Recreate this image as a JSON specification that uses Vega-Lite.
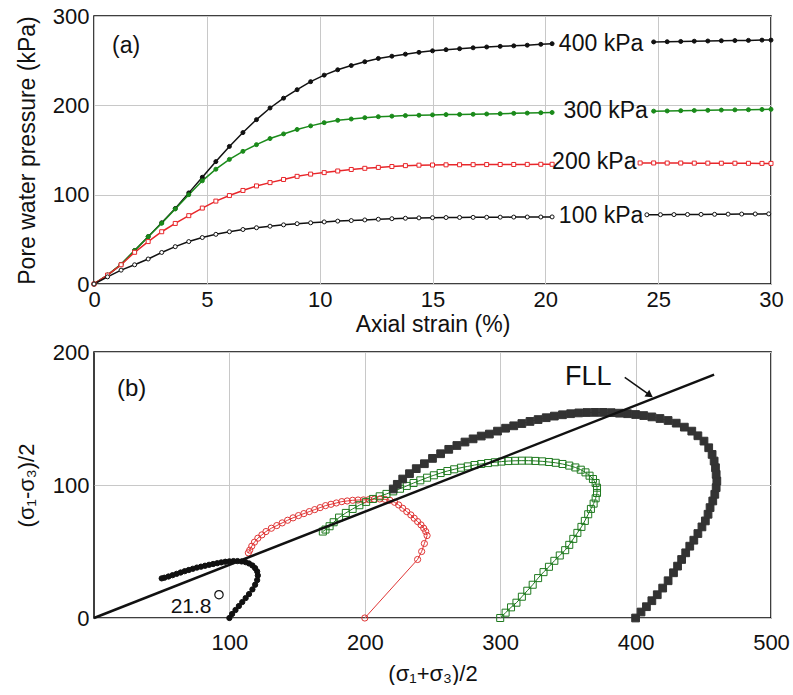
{
  "$schema": "https://vega.github.io/schema/vega-lite/v6.json",
  "background": "white",
  "padding": {"left": 14, "top": 4, "right": 12, "bottom": 0},
  "config": {
    "font": "Liberation Sans",
    "view": {"stroke": "black", "strokeWidth": 1.5},
    "axis": {"domain": false, "ticks": false, "grid": true, "gridColor": "#c8c8c8", "gridWidth": 1, "labelFont": "Liberation Sans", "labelFontSize": 22, "labelColor": "#111", "titleFont": "Liberation Sans", "titleFontSize": 22, "titleFontWeight": "normal", "titleColor": "#111", "labelFlush": false, "labelOverlap": false}
  },
  "spacing": 3,
  "resolve": {"scale": {"x": "independent", "y": "independent", "color": "independent", "stroke": "independent", "fill": "independent", "shape": "independent", "size": "independent"}},
  "datasets": {
    "top": [
      {"s":"400 kPa","g":"a","x":0,"y":0},{"s":"400 kPa","g":"a","x":0.6,"y":10},{"s":"400 kPa","g":"a","x":1.2,"y":22},{"s":"400 kPa","g":"a","x":1.8,"y":37.5},{"s":"400 kPa","g":"a","x":2.4,"y":53},{"s":"400 kPa","g":"a","x":3,"y":68.5},{"s":"400 kPa","g":"a","x":3.6,"y":84.5},{"s":"400 kPa","g":"a","x":4.2,"y":102},{"s":"400 kPa","g":"a","x":4.8,"y":119.5},{"s":"400 kPa","g":"a","x":5.4,"y":137},{"s":"400 kPa","g":"a","x":6,"y":154},{"s":"400 kPa","g":"a","x":6.6,"y":169.5},{"s":"400 kPa","g":"a","x":7.2,"y":184},{"s":"400 kPa","g":"a","x":7.8,"y":197},{"s":"400 kPa","g":"a","x":8.4,"y":208},{"s":"400 kPa","g":"a","x":9,"y":217.5},{"s":"400 kPa","g":"a","x":9.6,"y":226.5},{"s":"400 kPa","g":"a","x":10.2,"y":233.8},{"s":"400 kPa","g":"a","x":10.8,"y":239.8},{"s":"400 kPa","g":"a","x":11.4,"y":244.5},{"s":"400 kPa","g":"a","x":12,"y":248.8},{"s":"400 kPa","g":"a","x":12.6,"y":252.5},{"s":"400 kPa","g":"a","x":13.2,"y":255},{"s":"400 kPa","g":"a","x":13.8,"y":257.3},{"s":"400 kPa","g":"a","x":14.4,"y":259.3},{"s":"400 kPa","g":"a","x":15,"y":261},{"s":"400 kPa","g":"a","x":15.6,"y":262.3},{"s":"400 kPa","g":"a","x":16.2,"y":263.4},{"s":"400 kPa","g":"a","x":16.8,"y":264.4},{"s":"400 kPa","g":"a","x":17.4,"y":265.3},{"s":"400 kPa","g":"a","x":18,"y":266},{"s":"400 kPa","g":"a","x":18.6,"y":266.6},{"s":"400 kPa","g":"a","x":19.2,"y":267.3},{"s":"400 kPa","g":"a","x":19.8,"y":268.3},{"s":"400 kPa","g":"a","x":20.3,"y":269},
      {"s":"400 kPa","g":"b","x":24.8,"y":271},{"s":"400 kPa","g":"b","x":25.4,"y":271.2},{"s":"400 kPa","g":"b","x":26,"y":271.5},{"s":"400 kPa","g":"b","x":26.6,"y":271.8},{"s":"400 kPa","g":"b","x":27.2,"y":272},{"s":"400 kPa","g":"b","x":27.8,"y":272.3},{"s":"400 kPa","g":"b","x":28.4,"y":272.5},{"s":"400 kPa","g":"b","x":29,"y":272.7},{"s":"400 kPa","g":"b","x":29.6,"y":273},{"s":"400 kPa","g":"b","x":30,"y":273},
      {"s":"300 kPa","g":"a","x":0,"y":0},{"s":"300 kPa","g":"a","x":0.6,"y":10},{"s":"300 kPa","g":"a","x":1.2,"y":22},{"s":"300 kPa","g":"a","x":1.8,"y":37.5},{"s":"300 kPa","g":"a","x":2.4,"y":53},{"s":"300 kPa","g":"a","x":3,"y":68},{"s":"300 kPa","g":"a","x":3.6,"y":84},{"s":"300 kPa","g":"a","x":4.2,"y":100},{"s":"300 kPa","g":"a","x":4.8,"y":115.5},{"s":"300 kPa","g":"a","x":5.4,"y":128.5},{"s":"300 kPa","g":"a","x":6,"y":139.5},{"s":"300 kPa","g":"a","x":6.6,"y":148.5},{"s":"300 kPa","g":"a","x":7.2,"y":156},{"s":"300 kPa","g":"a","x":7.8,"y":162.8},{"s":"300 kPa","g":"a","x":8.4,"y":168},{"s":"300 kPa","g":"a","x":9,"y":173},{"s":"300 kPa","g":"a","x":9.6,"y":177},{"s":"300 kPa","g":"a","x":10.2,"y":180.6},{"s":"300 kPa","g":"a","x":10.8,"y":183.2},{"s":"300 kPa","g":"a","x":11.4,"y":184.7},{"s":"300 kPa","g":"a","x":12,"y":186.2},{"s":"300 kPa","g":"a","x":12.6,"y":187.3},{"s":"300 kPa","g":"a","x":13.2,"y":187.9},{"s":"300 kPa","g":"a","x":13.8,"y":188.5},{"s":"300 kPa","g":"a","x":14.4,"y":188.9},{"s":"300 kPa","g":"a","x":15,"y":189.3},{"s":"300 kPa","g":"a","x":15.6,"y":189.6},{"s":"300 kPa","g":"a","x":16.2,"y":189.8},{"s":"300 kPa","g":"a","x":16.8,"y":190},{"s":"300 kPa","g":"a","x":17.4,"y":190.3},{"s":"300 kPa","g":"a","x":18,"y":190.6},{"s":"300 kPa","g":"a","x":18.6,"y":191},{"s":"300 kPa","g":"a","x":19.2,"y":191.3},{"s":"300 kPa","g":"a","x":19.8,"y":191.7},{"s":"300 kPa","g":"a","x":20.3,"y":192},
      {"s":"300 kPa","g":"b","x":24.8,"y":193.5},{"s":"300 kPa","g":"b","x":25.4,"y":193.7},{"s":"300 kPa","g":"b","x":26,"y":194},{"s":"300 kPa","g":"b","x":26.6,"y":194.2},{"s":"300 kPa","g":"b","x":27.2,"y":194.4},{"s":"300 kPa","g":"b","x":27.8,"y":194.7},{"s":"300 kPa","g":"b","x":28.4,"y":194.9},{"s":"300 kPa","g":"b","x":29,"y":195.1},{"s":"300 kPa","g":"b","x":29.6,"y":195.4},{"s":"300 kPa","g":"b","x":30,"y":195.5},
      {"s":"200 kPa","g":"a","x":0,"y":0},{"s":"200 kPa","g":"a","x":0.6,"y":10},{"s":"200 kPa","g":"a","x":1.2,"y":21.5},{"s":"200 kPa","g":"a","x":1.8,"y":35.5},{"s":"200 kPa","g":"a","x":2.4,"y":47.5},{"s":"200 kPa","g":"a","x":3,"y":58.5},{"s":"200 kPa","g":"a","x":3.6,"y":67.8},{"s":"200 kPa","g":"a","x":4.2,"y":76.5},{"s":"200 kPa","g":"a","x":4.8,"y":85},{"s":"200 kPa","g":"a","x":5.4,"y":92.8},{"s":"200 kPa","g":"a","x":6,"y":99},{"s":"200 kPa","g":"a","x":6.6,"y":104.7},{"s":"200 kPa","g":"a","x":7.2,"y":109.8},{"s":"200 kPa","g":"a","x":7.8,"y":113.5},{"s":"200 kPa","g":"a","x":8.4,"y":117},{"s":"200 kPa","g":"a","x":9,"y":120.5},{"s":"200 kPa","g":"a","x":9.6,"y":123},{"s":"200 kPa","g":"a","x":10.2,"y":124.7},{"s":"200 kPa","g":"a","x":10.8,"y":126.5},{"s":"200 kPa","g":"a","x":11.4,"y":128.2},{"s":"200 kPa","g":"a","x":12,"y":129.5},{"s":"200 kPa","g":"a","x":12.6,"y":130.5},{"s":"200 kPa","g":"a","x":13.2,"y":131.5},{"s":"200 kPa","g":"a","x":13.8,"y":132.5},{"s":"200 kPa","g":"a","x":14.4,"y":133},{"s":"200 kPa","g":"a","x":15,"y":133.2},{"s":"200 kPa","g":"a","x":15.6,"y":133.4},{"s":"200 kPa","g":"a","x":16.2,"y":133.5},{"s":"200 kPa","g":"a","x":16.8,"y":133.6},{"s":"200 kPa","g":"a","x":17.4,"y":133.7},{"s":"200 kPa","g":"a","x":18,"y":133.8},{"s":"200 kPa","g":"a","x":18.6,"y":133.8},{"s":"200 kPa","g":"a","x":19.2,"y":133.9},{"s":"200 kPa","g":"a","x":19.8,"y":134},{"s":"200 kPa","g":"a","x":20.3,"y":134},
      {"s":"200 kPa","g":"b","x":24.2,"y":135.5},{"s":"200 kPa","g":"b","x":24.8,"y":135.5},{"s":"200 kPa","g":"b","x":25.4,"y":135.4},{"s":"200 kPa","g":"b","x":26,"y":135.4},{"s":"200 kPa","g":"b","x":26.6,"y":135.3},{"s":"200 kPa","g":"b","x":27.2,"y":135.3},{"s":"200 kPa","g":"b","x":27.8,"y":135.2},{"s":"200 kPa","g":"b","x":28.4,"y":135.2},{"s":"200 kPa","g":"b","x":29,"y":135.1},{"s":"200 kPa","g":"b","x":29.6,"y":135},{"s":"200 kPa","g":"b","x":30,"y":135},
      {"s":"100 kPa","g":"a","x":0,"y":0},{"s":"100 kPa","g":"a","x":0.6,"y":8},{"s":"100 kPa","g":"a","x":1.2,"y":15.5},{"s":"100 kPa","g":"a","x":1.8,"y":21.5},{"s":"100 kPa","g":"a","x":2.4,"y":28},{"s":"100 kPa","g":"a","x":3,"y":35.3},{"s":"100 kPa","g":"a","x":3.6,"y":41.8},{"s":"100 kPa","g":"a","x":4.2,"y":47.5},{"s":"100 kPa","g":"a","x":4.8,"y":52},{"s":"100 kPa","g":"a","x":5.4,"y":55.6},{"s":"100 kPa","g":"a","x":6,"y":58.5},{"s":"100 kPa","g":"a","x":6.6,"y":61},{"s":"100 kPa","g":"a","x":7.2,"y":63},{"s":"100 kPa","g":"a","x":7.8,"y":64.7},{"s":"100 kPa","g":"a","x":8.4,"y":66.2},{"s":"100 kPa","g":"a","x":9,"y":67.5},{"s":"100 kPa","g":"a","x":9.6,"y":68.5},{"s":"100 kPa","g":"a","x":10.2,"y":69.5},{"s":"100 kPa","g":"a","x":10.8,"y":70.4},{"s":"100 kPa","g":"a","x":11.4,"y":71},{"s":"100 kPa","g":"a","x":12,"y":71.7},{"s":"100 kPa","g":"a","x":12.6,"y":72.5},{"s":"100 kPa","g":"a","x":13.2,"y":73.1},{"s":"100 kPa","g":"a","x":13.8,"y":73.6},{"s":"100 kPa","g":"a","x":14.4,"y":74},{"s":"100 kPa","g":"a","x":15,"y":74.2},{"s":"100 kPa","g":"a","x":15.6,"y":74.4},{"s":"100 kPa","g":"a","x":16.2,"y":74.5},{"s":"100 kPa","g":"a","x":16.8,"y":74.6},{"s":"100 kPa","g":"a","x":17.4,"y":74.7},{"s":"100 kPa","g":"a","x":18,"y":74.8},{"s":"100 kPa","g":"a","x":18.6,"y":74.9},{"s":"100 kPa","g":"a","x":19.2,"y":75},{"s":"100 kPa","g":"a","x":19.8,"y":75},{"s":"100 kPa","g":"a","x":20.3,"y":75.1},
      {"s":"100 kPa","g":"b","x":24.5,"y":77.5},{"s":"100 kPa","g":"b","x":25.1,"y":77.6},{"s":"100 kPa","g":"b","x":25.7,"y":77.7},{"s":"100 kPa","g":"b","x":26.3,"y":77.8},{"s":"100 kPa","g":"b","x":26.9,"y":77.9},{"s":"100 kPa","g":"b","x":27.5,"y":78},{"s":"100 kPa","g":"b","x":28.1,"y":78.2},{"s":"100 kPa","g":"b","x":28.7,"y":78.3},{"s":"100 kPa","g":"b","x":29.3,"y":78.4},{"s":"100 kPa","g":"b","x":29.9,"y":78.5}
    ],
    "toplab": [
      {"t":"400 kPa","x":20.6,"y":269},
      {"t":"300 kPa","x":20.8,"y":193.5},
      {"t":"200 kPa","x":20.3,"y":137},
      {"t":"100 kPa","x":20.6,"y":76},
      {"t":"(a)","x":0.8,"y":266}
    ],
    "bot": [
      {"s":"p100","x":100,"y":0},{"s":"p100","x":102,"y":3},{"s":"p100","x":104.5,"y":6},{"s":"p100","x":107,"y":9},{"s":"p100","x":109.5,"y":12},{"s":"p100","x":112,"y":15},{"s":"p100","x":114.5,"y":18},{"s":"p100","x":117,"y":21.5},{"s":"p100","x":119,"y":25},{"s":"p100","x":120.5,"y":28.5},{"s":"p100","x":121,"y":32},{"s":"p100","x":120.5,"y":35},{"s":"p100","x":119,"y":37.5},{"s":"p100","x":117,"y":39.5},{"s":"p100","x":114.5,"y":41},{"s":"p100","x":112,"y":42},{"s":"p100","x":109,"y":42.5},{"s":"p100","x":106,"y":42.8},{"s":"p100","x":103,"y":42.8},{"s":"p100","x":100,"y":42.6},{"s":"p100","x":97,"y":42.3},{"s":"p100","x":94,"y":41.8},{"s":"p100","x":91,"y":41.2},{"s":"p100","x":88,"y":40.6},{"s":"p100","x":85,"y":40},{"s":"p100","x":82,"y":39.3},{"s":"p100","x":79,"y":38.6},{"s":"p100","x":76,"y":37.9},{"s":"p100","x":73,"y":37},{"s":"p100","x":70,"y":36.1},{"s":"p100","x":67,"y":35.2},{"s":"p100","x":64,"y":34.2},{"s":"p100","x":61,"y":33.2},{"s":"p100","x":58,"y":32.2},{"s":"p100","x":55,"y":31.2},{"s":"p100","x":52,"y":30.3},{"s":"p100","x":50,"y":29.8},
      {"s":"p200","x":200,"y":0},{"s":"p200","x":239,"y":44},{"s":"p200","x":242,"y":50},{"s":"p200","x":244,"y":56},{"s":"p200","x":246,"y":62},{"s":"p200","x":245,"y":65},{"s":"p200","x":243.5,"y":67.5},{"s":"p200","x":241.5,"y":70},{"s":"p200","x":239,"y":72.5},{"s":"p200","x":236.5,"y":75},{"s":"p200","x":234,"y":77.5},{"s":"p200","x":231,"y":80},{"s":"p200","x":228,"y":82.5},{"s":"p200","x":225,"y":85},{"s":"p200","x":222,"y":87},{"s":"p200","x":218.5,"y":88.5},{"s":"p200","x":215,"y":89.2},{"s":"p200","x":211,"y":89.5},{"s":"p200","x":207,"y":89.3},{"s":"p200","x":203,"y":89},{"s":"p200","x":199,"y":88.8},{"s":"p200","x":195,"y":88.7},{"s":"p200","x":191,"y":88.5},{"s":"p200","x":187,"y":88},{"s":"p200","x":183,"y":87.5},{"s":"p200","x":179,"y":86.5},{"s":"p200","x":175,"y":85.5},{"s":"p200","x":171,"y":84.5},{"s":"p200","x":167,"y":83},{"s":"p200","x":163,"y":81.5},{"s":"p200","x":159,"y":80},{"s":"p200","x":155,"y":78.5},{"s":"p200","x":151,"y":77},{"s":"p200","x":147,"y":75.3},{"s":"p200","x":143,"y":73.5},{"s":"p200","x":139,"y":71.5},{"s":"p200","x":135,"y":69.5},{"s":"p200","x":131,"y":67.5},{"s":"p200","x":127,"y":65},{"s":"p200","x":124,"y":62.5},{"s":"p200","x":121,"y":60},{"s":"p200","x":118.5,"y":57},{"s":"p200","x":116.5,"y":54},{"s":"p200","x":115,"y":51},{"s":"p200","x":114,"y":49},
      {"s":"p300","x":300,"y":0},{"s":"p300","x":304,"y":4},{"s":"p300","x":308,"y":8},{"s":"p300","x":312,"y":11.5},{"s":"p300","x":316,"y":16},{"s":"p300","x":320,"y":20.5},{"s":"p300","x":324,"y":25},{"s":"p300","x":328,"y":30},{"s":"p300","x":332,"y":34.5},{"s":"p300","x":336,"y":38.5},{"s":"p300","x":340,"y":43},{"s":"p300","x":344,"y":47},{"s":"p300","x":348,"y":51},{"s":"p300","x":351,"y":55},{"s":"p300","x":354,"y":59.5},{"s":"p300","x":357,"y":64},{"s":"p300","x":360,"y":68.5},{"s":"p300","x":362.5,"y":73},{"s":"p300","x":365,"y":78},{"s":"p300","x":367,"y":82},{"s":"p300","x":369,"y":86},{"s":"p300","x":370.5,"y":90},{"s":"p300","x":371.5,"y":94},{"s":"p300","x":371.5,"y":98},{"s":"p300","x":370.5,"y":101.5},{"s":"p300","x":368.5,"y":104.5},{"s":"p300","x":366,"y":107},{"s":"p300","x":363,"y":109.5},{"s":"p300","x":359.5,"y":111.5},{"s":"p300","x":355.5,"y":113.2},{"s":"p300","x":351,"y":114.6},{"s":"p300","x":346,"y":115.8},{"s":"p300","x":341,"y":116.7},{"s":"p300","x":336,"y":117.3},{"s":"p300","x":331,"y":117.8},{"s":"p300","x":326,"y":118.1},{"s":"p300","x":321,"y":118.3},{"s":"p300","x":316,"y":118.3},{"s":"p300","x":311,"y":118.2},{"s":"p300","x":306,"y":118},{"s":"p300","x":301,"y":117.6},{"s":"p300","x":296,"y":117.1},{"s":"p300","x":291,"y":116.5},{"s":"p300","x":286,"y":115.8},{"s":"p300","x":281,"y":115},{"s":"p300","x":276,"y":114},{"s":"p300","x":271,"y":113},{"s":"p300","x":266,"y":111.8},{"s":"p300","x":261,"y":110.5},{"s":"p300","x":256,"y":109},{"s":"p300","x":251,"y":107.3},{"s":"p300","x":246,"y":105.5},{"s":"p300","x":241,"y":103.5},{"s":"p300","x":236,"y":101.5},{"s":"p300","x":231,"y":99.3},{"s":"p300","x":226,"y":97.2},{"s":"p300","x":221,"y":95.2},{"s":"p300","x":216,"y":93.3},{"s":"p300","x":211,"y":91.5},{"s":"p300","x":206,"y":89.5},{"s":"p300","x":201,"y":87.3},{"s":"p300","x":196,"y":84.8},{"s":"p300","x":191,"y":82},{"s":"p300","x":186,"y":79},{"s":"p300","x":181,"y":75.5},{"s":"p300","x":177,"y":72},{"s":"p300","x":174,"y":69},{"s":"p300","x":171,"y":66.5},{"s":"p300","x":169,"y":65},
      {"s":"p400","x":400,"y":0},{"s":"p400","x":404,"y":4.5},{"s":"p400","x":408,"y":8.5},{"s":"p400","x":412,"y":13},{"s":"p400","x":416,"y":17.5},{"s":"p400","x":420,"y":22.5},{"s":"p400","x":424,"y":28},{"s":"p400","x":428,"y":34},{"s":"p400","x":431,"y":39},{"s":"p400","x":434,"y":44},{"s":"p400","x":437,"y":49},{"s":"p400","x":440,"y":54},{"s":"p400","x":443,"y":58.5},{"s":"p400","x":446,"y":63.5},{"s":"p400","x":449,"y":68.5},{"s":"p400","x":451.5,"y":73},{"s":"p400","x":453.5,"y":78},{"s":"p400","x":455,"y":83},{"s":"p400","x":457,"y":88},{"s":"p400","x":458.5,"y":93},{"s":"p400","x":459.5,"y":98},{"s":"p400","x":460,"y":103},{"s":"p400","x":459.5,"y":108},{"s":"p400","x":459,"y":113},{"s":"p400","x":458,"y":118},{"s":"p400","x":456.5,"y":123},{"s":"p400","x":454,"y":128},{"s":"p400","x":450.5,"y":133},{"s":"p400","x":446,"y":137},{"s":"p400","x":441.5,"y":140.5},{"s":"p400","x":436,"y":143.5},{"s":"p400","x":430,"y":146.5},{"s":"p400","x":424,"y":148.5},{"s":"p400","x":418,"y":150},{"s":"p400","x":412,"y":151.2},{"s":"p400","x":406,"y":152.2},{"s":"p400","x":400,"y":153},{"s":"p400","x":394,"y":153.6},{"s":"p400","x":388,"y":154},{"s":"p400","x":382,"y":154.4},{"s":"p400","x":376,"y":154.6},{"s":"p400","x":370,"y":154.6},{"s":"p400","x":364,"y":154.5},{"s":"p400","x":358,"y":154.2},{"s":"p400","x":352,"y":153.6},{"s":"p400","x":346,"y":152.8},{"s":"p400","x":340,"y":151.8},{"s":"p400","x":334,"y":150.6},{"s":"p400","x":328,"y":149.2},{"s":"p400","x":322,"y":147.8},{"s":"p400","x":316,"y":146.2},{"s":"p400","x":310,"y":144.5},{"s":"p400","x":304,"y":142.7},{"s":"p400","x":298,"y":140.5},{"s":"p400","x":292,"y":138.3},{"s":"p400","x":286,"y":136.8},{"s":"p400","x":280,"y":134.7},{"s":"p400","x":274,"y":132.3},{"s":"p400","x":268,"y":129.7},{"s":"p400","x":262,"y":126.8},{"s":"p400","x":256,"y":123.5},{"s":"p400","x":250,"y":120},{"s":"p400","x":244,"y":116},{"s":"p400","x":238,"y":112.3},{"s":"p400","x":233,"y":108.5},{"s":"p400","x":228,"y":104.5},{"s":"p400","x":224,"y":100.5},{"s":"p400","x":221,"y":97}
    ]
  },
  "vconcat": [
    {
      "width": 677,
      "height": 268,
      "layer": [
        {
          "data": {"name": "top"},
          "mark": {"type": "line", "strokeWidth": 1.5},
          "encoding": {
            "x": {"field": "x", "type": "quantitative", "scale": {"domain": [0, 30], "nice": false}, "axis": {"values": [0, 5, 10, 15, 20, 25, 30], "title": "Axial strain (%)", "titleFontSize": 23, "labelPadding": 5, "titlePadding": 3}},
            "y": {"field": "y", "type": "quantitative", "scale": {"domain": [0, 300], "nice": false}, "axis": {"values": [0, 100, 200, 300], "title": "Pore water pressure (kPa)", "titleFontSize": 23, "labelPadding": 5, "titlePadding": 13}},
            "color": {"field": "s", "type": "nominal", "scale": {"domain": ["100 kPa", "200 kPa", "300 kPa", "400 kPa"], "range": ["#111111", "#e8262a", "#1a8a1a", "#111111"]}, "legend": null},
            "detail": {"field": "g"}
          }
        },
        {
          "data": {"name": "top"},
          "mark": {"type": "point", "size": 16, "strokeWidth": 1, "opacity": 1, "fillOpacity": 1},
          "encoding": {
            "x": {"field": "x", "type": "quantitative"},
            "y": {"field": "y", "type": "quantitative"},
            "stroke": {"field": "s", "type": "nominal", "scale": {"domain": ["100 kPa", "200 kPa", "300 kPa", "400 kPa"], "range": ["#111111", "#e8262a", "#1a8a1a", "#111111"]}, "legend": null},
            "fill": {"field": "s", "type": "nominal", "scale": {"domain": ["100 kPa", "200 kPa", "300 kPa", "400 kPa"], "range": ["#ffffff", "#ffffff", "#1a8a1a", "#111111"]}, "legend": null},
            "shape": {"field": "s", "type": "nominal", "scale": {"domain": ["100 kPa", "200 kPa", "300 kPa", "400 kPa"], "range": ["circle", "square", "circle", "circle"]}, "legend": null}
          }
        },
        {
          "data": {"name": "toplab"},
          "mark": {"type": "text", "align": "left", "baseline": "middle", "fontSize": 23, "font": "Liberation Sans", "color": "#111"},
          "encoding": {
            "x": {"field": "x", "type": "quantitative"},
            "y": {"field": "y", "type": "quantitative"},
            "text": {"field": "t"}
          }
        }
      ]
    },
    {
      "width": 677,
      "height": 266,
      "layer": [
        {
          "data": {"name": "bot"},
          "mark": {"type": "line", "strokeWidth": 1},
          "encoding": {
            "x": {"field": "x", "type": "quantitative", "scale": {"domain": [0, 500], "nice": false}, "axis": {"values": [100, 200, 300, 400, 500], "title": "(σ₁+σ₃)/2", "labelPadding": 14, "titlePadding": 10}},
            "y": {"field": "y", "type": "quantitative", "scale": {"domain": [0, 200], "nice": false}, "axis": {"values": [0, 100, 200], "title": "(σ₁-σ₃)/2", "labelPadding": 5, "titlePadding": 14}},
            "color": {"field": "s", "type": "nominal", "scale": {"domain": ["p100", "p200", "p300", "p400"], "range": ["#111111", "#e03535", "#1f7a1f", "#555555"]}, "legend": null},
            "order": {"value": null}
          }
        },
        {
          "data": {"name": "bot"},
          "mark": {"type": "point", "strokeWidth": 1, "opacity": 1, "fillOpacity": 1},
          "encoding": {
            "x": {"field": "x", "type": "quantitative"},
            "y": {"field": "y", "type": "quantitative"},
            "stroke": {"field": "s", "type": "nominal", "scale": {"domain": ["p100", "p200", "p300", "p400"], "range": ["#111111", "#e03535", "#1f7a1f", "#333333"]}, "legend": null},
            "fill": {"field": "s", "type": "nominal", "scale": {"domain": ["p100", "p200", "p300", "p400"], "range": ["#111111", "transparent", "transparent", "#333333"]}, "legend": null},
            "shape": {"field": "s", "type": "nominal", "scale": {"domain": ["p100", "p200", "p300", "p400"], "range": ["circle", "circle", "square", "square"]}, "legend": null},
            "size": {"field": "s", "type": "nominal", "scale": {"domain": ["p100", "p200", "p300", "p400"], "range": [28, 60, 30, 48]}, "legend": null}
          }
        },
        {
          "data": {"values": [{"x": 0, "y": 0}, {"x": 458, "y": 183}]},
          "mark": {"type": "line", "strokeWidth": 2.5, "color": "#111"},
          "encoding": {
            "x": {"field": "x", "type": "quantitative"},
            "y": {"field": "y", "type": "quantitative"}
          }
        },
        {
          "data": {"values": [{"x": 392, "y": 181, "x2": 410, "y2": 168}]},
          "mark": {"type": "rule", "strokeWidth": 1.5, "color": "#111"},
          "encoding": {
            "x": {"field": "x", "type": "quantitative"},
            "y": {"field": "y", "type": "quantitative"},
            "x2": {"field": "x2"},
            "y2": {"field": "y2"}
          }
        },
        {
          "data": {"values": [{"x": 410.5, "y": 167.5}]},
          "mark": {"type": "point", "shape": "triangle-right", "angle": 35, "size": 70, "filled": true, "color": "#111", "opacity": 1},
          "encoding": {
            "x": {"field": "x", "type": "quantitative"},
            "y": {"field": "y", "type": "quantitative"}
          }
        },
        {
          "data": {"values": [{"x": 92.3, "y": 17.5}]},
          "mark": {"type": "point", "shape": "circle", "size": 70, "filled": false, "color": "#111", "strokeWidth": 1.2, "opacity": 1},
          "encoding": {
            "x": {"field": "x", "type": "quantitative"},
            "y": {"field": "y", "type": "quantitative"}
          }
        },
        {
          "data": {"values": [{"t": "FLL", "x": 365, "y": 181}]},
          "mark": {"type": "text", "align": "center", "baseline": "middle", "fontSize": 27, "font": "Liberation Sans", "color": "#111"},
          "encoding": {
            "x": {"field": "x", "type": "quantitative"},
            "y": {"field": "y", "type": "quantitative"},
            "text": {"field": "t"}
          }
        },
        {
          "data": {"values": [{"t": "(b)", "x": 17, "y": 172}]},
          "mark": {"type": "text", "align": "left", "baseline": "middle", "fontSize": 24, "font": "Liberation Sans", "color": "#111"},
          "encoding": {
            "x": {"field": "x", "type": "quantitative"},
            "y": {"field": "y", "type": "quantitative"},
            "text": {"field": "t"}
          }
        },
        {
          "data": {"values": [{"t": "21.8", "x": 56.6, "y": 8.5}]},
          "mark": {"type": "text", "align": "left", "baseline": "middle", "fontSize": 21, "font": "Liberation Sans", "color": "#111"},
          "encoding": {
            "x": {"field": "x", "type": "quantitative"},
            "y": {"field": "y", "type": "quantitative"},
            "text": {"field": "t"}
          }
        }
      ]
    }
  ]
}
